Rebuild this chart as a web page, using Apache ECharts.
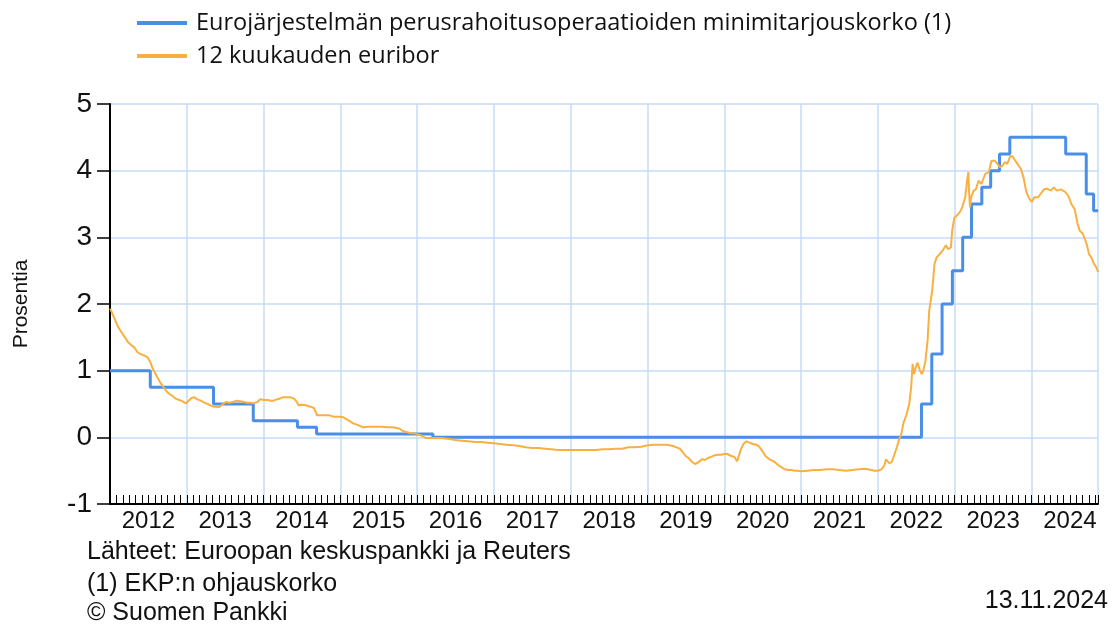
<!DOCTYPE html>
<html><head><meta charset="utf-8">
<script src="https://cdn.jsdelivr.net/npm/echarts@6/dist/echarts.min.js"></script>
<style>html,body{margin:0;padding:0;background:#fff}#c{width:1112px;height:626px}</style>
</head><body><div id="c"></div>
<script>
const seriesNames = ['Eurojärjestelmän perusrahoitusoperaatioiden minimitarjouskorko (1)', '12 kuukauden euribor'];
const yAxisName = 'Prosentia';
const yearLabelPositions = [2012.5,2013.5,2014.5,2015.5,2016.5,2017.5,2018.5,2019.5,2020.5,2021.5,2022.5,2023.5,2024.5];
const axisStartDate = '2012-01-01';
const axisEndDate = '2024-11-13';

// ECB main refinancing rate: change dates and new levels
const ecbDates = ['2012-01-01','2012-07-11','2013-05-08','2013-11-13','2014-06-11','2014-09-10','2016-03-16','2022-07-27','2022-09-14','2022-11-02','2022-12-21','2023-02-08','2023-03-22','2023-05-10','2023-06-21','2023-08-02','2023-09-20','2024-06-12','2024-09-18','2024-10-23','2024-11-13'];
const ecbRates = [1.00,0.75,0.50,0.25,0.15,0.05,0.00,0.50,1.25,2.00,2.50,3.00,3.50,3.75,4.00,4.25,4.50,4.25,3.65,3.40,3.40];

// 12-month Euribor
const euriborDates = [
'2012-01-02','2012-01-20','2012-02-08','2012-02-24','2012-03-12','2012-03-26','2012-04-12','2012-04-26','2012-05-10','2012-05-25','2012-06-11','2012-06-28','2012-07-06','2012-07-12','2012-07-24','2012-08-07','2012-08-24','2012-09-10','2012-09-24','2012-10-10','2012-10-25','2012-11-09','2012-11-26','2012-12-12','2012-12-28',
'2013-01-10','2013-01-24','2013-02-06','2013-02-20','2013-03-08','2013-03-25','2013-04-10','2013-04-24','2013-05-08','2013-05-22','2013-06-03','2013-06-18','2013-07-06','2013-07-22','2013-08-08','2013-08-26','2013-09-13','2013-09-30','2013-10-15','2013-11-01','2013-11-13','2013-12-02','2013-12-16',
'2014-01-03','2014-01-20','2014-02-05','2014-02-17','2014-03-05','2014-03-18','2014-04-01','2014-04-20','2014-05-09','2014-05-26','2014-06-06','2014-06-17','2014-07-03','2014-07-20','2014-08-12','2014-08-28','2014-09-05','2014-09-12','2014-10-01','2014-10-20','2014-11-10','2014-11-29','2014-12-15',
'2015-01-02','2015-01-15','2015-02-01','2015-02-16','2015-03-03','2015-03-20','2015-04-05','2015-04-20','2015-05-15','2015-06-15','2015-07-15','2015-08-15','2015-09-09','2015-09-25','2015-10-10','2015-10-22','2015-11-10','2015-12-02','2015-12-18',
'2016-01-08','2016-01-25','2016-02-10','2016-03-01','2016-04-01','2016-05-01','2016-06-10','2016-07-01','2016-08-01','2016-09-01','2016-10-03','2016-11-01','2016-12-01',
'2017-01-02','2017-02-01','2017-03-01','2017-04-03','2017-05-02','2017-06-01','2017-07-03','2017-08-01','2017-09-01','2017-10-02','2017-11-01','2017-12-01',
'2018-01-02','2018-02-01','2018-03-01','2018-04-03','2018-05-02','2018-06-01','2018-07-02','2018-08-01','2018-09-03','2018-10-01','2018-11-01','2018-12-03',
'2019-01-02','2019-02-01','2019-03-01','2019-04-01','2019-05-02','2019-06-03','2019-06-17','2019-07-01','2019-07-15','2019-08-01','2019-08-15','2019-09-02','2019-09-16','2019-10-01','2019-10-15','2019-11-01','2019-11-15','2019-12-02','2019-12-16',
'2020-01-02','2020-01-15','2020-02-03','2020-02-17','2020-03-02','2020-03-10','2020-03-20','2020-04-01','2020-04-15','2020-05-01','2020-05-15','2020-06-01','2020-06-15','2020-07-01','2020-07-15','2020-08-03','2020-08-17','2020-09-01','2020-09-15','2020-10-01','2020-10-15','2020-11-02','2020-11-16','2020-12-01','2020-12-15',
'2021-01-04','2021-02-01','2021-03-01','2021-04-01','2021-05-03','2021-06-01','2021-07-01','2021-08-02','2021-09-01','2021-10-01','2021-11-01','2021-12-01','2021-12-15',
'2022-01-03','2022-01-17','2022-02-01','2022-02-08','2022-02-15','2022-02-25','2022-03-08','2022-03-18','2022-04-01','2022-04-12','2022-04-22','2022-05-03','2022-05-16','2022-05-30','2022-06-08','2022-06-15','2022-06-22','2022-06-30','2022-07-08','2022-07-18','2022-07-28','2022-08-05','2022-08-15','2022-08-25','2022-09-02','2022-09-09','2022-09-16','2022-09-27','2022-10-07','2022-10-22','2022-11-04','2022-11-20','2022-12-02','2022-12-14','2022-12-20','2022-12-30',
'2023-01-12','2023-01-24','2023-02-06','2023-02-20','2023-03-01','2023-03-07','2023-03-10','2023-03-15','2023-03-20','2023-04-01','2023-04-12','2023-04-24','2023-05-08','2023-05-26','2023-06-12','2023-06-25','2023-07-10','2023-07-24','2023-08-04','2023-08-18','2023-08-28','2023-09-08','2023-09-21','2023-10-02','2023-10-16','2023-10-31','2023-11-12','2023-11-24','2023-12-06','2023-12-18',
'2024-01-02','2024-01-15','2024-02-01','2024-02-13','2024-03-01','2024-03-15','2024-04-02','2024-04-16','2024-05-01','2024-05-20','2024-06-10','2024-06-25','2024-07-09','2024-07-25','2024-08-08','2024-08-18','2024-09-02','2024-09-20','2024-10-01','2024-10-12','2024-10-25','2024-11-05','2024-11-13'];
const euriborValues = [
1.93,1.80,1.66,1.58,1.50,1.43,1.38,1.35,1.28,1.25,1.23,1.20,1.17,1.12,1.02,0.94,0.84,0.76,0.70,0.65,0.62,0.58,0.56,0.54,0.51,
0.55,0.59,0.60,0.57,0.55,0.52,0.50,0.48,0.46,0.46,0.45,0.49,0.53,0.52,0.53,0.55,0.54,0.53,0.52,0.52,0.51,0.53,0.57,
0.56,0.56,0.55,0.55,0.57,0.58,0.60,0.60,0.60,0.58,0.54,0.48,0.49,0.48,0.46,0.44,0.39,0.33,0.33,0.33,0.33,0.31,0.31,
0.31,0.30,0.27,0.24,0.21,0.19,0.17,0.15,0.16,0.16,0.16,0.15,0.15,0.14,0.13,0.10,0.08,0.06,0.06,
0.04,0.02,-0.01,-0.01,-0.01,-0.01,-0.03,-0.04,-0.05,-0.06,-0.07,-0.07,-0.08,
-0.09,-0.10,-0.11,-0.12,-0.13,-0.15,-0.16,-0.16,-0.17,-0.18,-0.19,-0.19,
-0.19,-0.19,-0.19,-0.19,-0.19,-0.18,-0.18,-0.17,-0.17,-0.15,-0.15,-0.14,
-0.12,-0.11,-0.11,-0.11,-0.13,-0.17,-0.22,-0.28,-0.31,-0.37,-0.40,-0.37,-0.33,-0.34,-0.31,-0.29,-0.27,-0.26,-0.26,
-0.25,-0.25,-0.28,-0.29,-0.36,-0.35,-0.18,-0.10,-0.06,-0.08,-0.10,-0.11,-0.14,-0.21,-0.28,-0.33,-0.35,-0.38,-0.42,-0.45,-0.48,-0.49,-0.49,-0.50,-0.50,
-0.51,-0.50,-0.49,-0.49,-0.48,-0.48,-0.49,-0.50,-0.49,-0.48,-0.47,-0.49,-0.50,
-0.50,-0.48,-0.42,-0.33,-0.34,-0.39,-0.37,-0.28,-0.15,-0.03,0.05,0.22,0.33,0.50,0.75,1.10,0.95,1.05,1.12,1.02,0.95,1.00,1.15,1.45,1.90,2.05,2.20,2.60,2.70,2.75,2.80,2.88,2.82,2.85,3.10,3.29,
3.33,3.37,3.45,3.60,3.85,3.98,3.70,3.45,3.60,3.70,3.72,3.85,3.80,3.95,3.98,4.15,4.15,4.10,4.05,4.08,4.13,4.10,4.21,4.22,4.15,4.08,4.02,3.90,3.70,3.60,
3.53,3.60,3.60,3.65,3.72,3.73,3.70,3.75,3.70,3.72,3.68,3.62,3.50,3.42,3.20,3.10,3.05,2.90,2.75,2.70,2.60,2.55,2.48];

const sourceLines = ['Lähteet: Euroopan keskuspankki ja Reuters', '(1) EKP:n ohjauskorko', '© Suomen Pankki'];
const dateText = '13.11.2024';

function decYear(s) {
  const p = s.split('-').map(Number);
  const t = Date.UTC(p[0], p[1]-1, p[2]);
  const a = Date.UTC(p[0], 0, 1), b = Date.UTC(p[0]+1, 0, 1);
  return p[0] + (t - a) / (b - a);
}
const ecbData = ecbDates.map((d,i)=>[decYear(d), ecbRates[i]]);
const euriborData = euriborDates.map((d,i)=>[decYear(d), euriborValues[i]]);

const sans = '"Liberation Sans", Arial, sans-serif';
const chart = echarts.init(document.getElementById('c'), null, {renderer:'canvas'});
chart.setOption({
  animation: false,
  backgroundColor: '#fff',
  grid: {left: 110, right: 14, top: 104, bottom: 122, containLabel: false, outerBoundsMode: 'none'},
  legend: {
    orient: 'vertical', left: 132, top: 6, itemWidth: 50, itemHeight: 4, itemGap: 9,
    textStyle: {fontFamily: '"Open Sans", sans-serif', fontSize: 23.5, lineHeight: 24, color: '#111', padding: [0,0,0,4]},
    data: [{name: seriesNames[0], icon: 'rect'}, {name: seriesNames[1], icon: 'rect'}]
  },
  xAxis: {
    type: 'value', min: decYear(axisStartDate), max: decYear(axisEndDate), interval: 1,
    axisLine: {show: true, onZero: false, lineStyle: {color: '#000', width: 2}},
    axisTick: {show: true, inside: true, length: 9, lineStyle: {color: '#000', width: 1}},
    minorTick: {show: true, splitNumber: 12, length: 9, lineStyle: {color: '#000', width: 1}},
    splitLine: {show: true, lineStyle: {color: '#c6dbf7', width: 1.5}},
    axisLabel: {
      customValues: yearLabelPositions, margin: 5,
      formatter: v => String(Math.floor(v)),
      fontFamily: sans, fontSize: 24, color: '#111'
    }
  },
  yAxis: {
    type: 'value', min: -1, max: 5, interval: 1,
    name: yAxisName, nameLocation: 'middle', nameRotate: 90, nameGap: 78,
    nameTextStyle: {fontFamily: sans, fontSize: 21, color: '#111'},
    axisLine: {show: true, lineStyle: {color: '#000', width: 2}},
    axisTick: {show: true, length: 13, lineStyle: {color: '#000', width: 1.5}},
    splitLine: {show: true, lineStyle: {color: '#c6dbf7', width: 1.5}},
    axisLabel: {margin: 18, fontFamily: sans, fontSize: 28, color: '#111'}
  },
  series: [
    {name: seriesNames[0], type: 'line', step: 'end', data: ecbData, showSymbol: false,
     lineStyle: {color: '#4a8fe7', width: 3}, itemStyle: {color: '#4a8fe7'}, z: 2},
    {name: seriesNames[1], type: 'line', data: euriborData, showSymbol: false,
     lineStyle: {color: '#f9b041', width: 2}, itemStyle: {color: '#f9b041'}, z: 3}
  ],
  graphic: [
    {type: 'text', x: 87, y: 552, style: {text: sourceLines[0], font: '25px ' + sans, fill: '#111', verticalAlign: 'middle'}},
    {type: 'text', x: 87, y: 584, style: {text: sourceLines[1], font: '25px ' + sans, fill: '#111', verticalAlign: 'middle'}},
    {type: 'text', x: 87, y: 613, style: {text: sourceLines[2], font: '25px ' + sans, fill: '#111', verticalAlign: 'middle'}},
    {type: 'text', x: 1108, y: 601, style: {text: dateText, font: '25px ' + sans, fill: '#111', verticalAlign: 'middle', align: 'right'}}
  ]
});
</script></body></html>
